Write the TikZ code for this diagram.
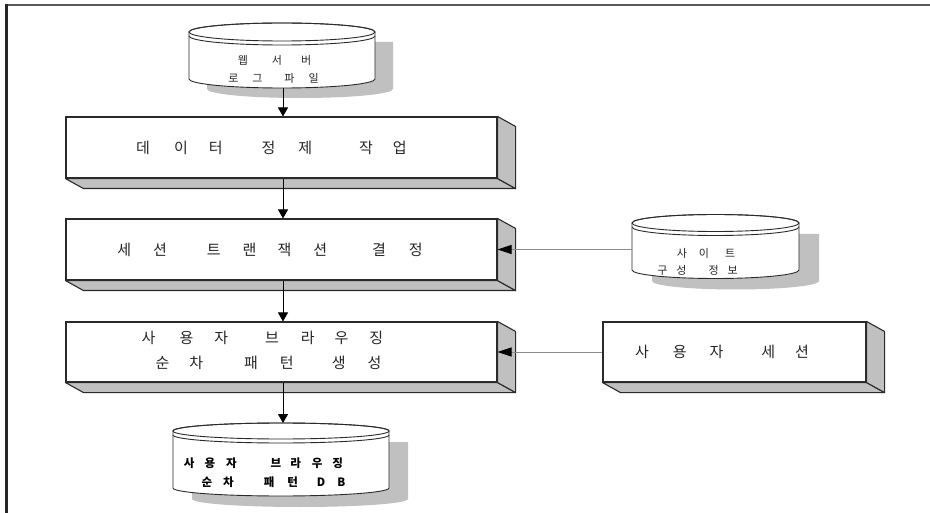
\documentclass[tikz,border=0pt]{standalone}
\usepackage{fontspec}
\newfontfamily\kr{Noto Sans CJK KR}
\usetikzlibrary{arrows.meta,calc}
\newcommand\gapk[1]{\hspace*{#1pt}}
\definecolor{sidegray}{HTML}{C0C0C0}
\definecolor{edge}{HTML}{2A2A2A}
\newcommand\threed[1]{%
  \filldraw[face] (#1.south west) -- ++(18,10) -- ($(#1.south east)+(18,10)$) -- (#1.south east) -- cycle;
  \filldraw[face] (#1.north east) -- ++(18,10) -- ($(#1.south east)+(18,10)$) -- (#1.south east) -- cycle;
}
\begin{document}
\begin{tikzpicture}[x=1pt,y=-1pt,
  face/.style={fill=sidegray,draw=edge,line width=1.1pt,line join=round},
  frontbox/.style={draw=edge,fill=white,line width=1.1pt,inner sep=0pt},
  cyl/.style={draw=edge,fill=white,line width=0.9pt},
  shadowc/.style={fill=sidegray,draw=none},
  arr/.style={draw=black,line width=0.9pt,-{Triangle[width=10pt,length=9pt]}},
  harr/.style={draw=gray!90,line width=0.8pt,-{Triangle[width=9pt,length=14pt,color=black]}},
  btxt/.style={font=\kr\fontsize{15}{18}\selectfont,inner sep=0pt,text=black!85},
  ctxt/.style={font=\kr\fontsize{11}{13}\selectfont,inner sep=0pt,text=black!85},
  dtxt/.style={font=\kr\bfseries\fontsize{11.5}{13}\selectfont,inner sep=0pt,text=black}]
\useasboundingbox (0,0) rectangle (930,513);
\fill[white] (0,0) rectangle (930,513);
% frame
\draw[gray!70!black,line width=2pt] (6,5) -- (930,5);
\draw[black!85,line width=2.4pt] (6.5,4) -- (6.5,513);

% ---------- cylinders ----------
% web server log
\fill[shadowc] (207,42) -- (207,89) arc[start angle=180,end angle=360,x radius=93pt,y radius=9pt] -- (393,42) -- cycle;
\filldraw[cyl] (189,32) -- (189,79) arc[start angle=180,end angle=360,x radius=93pt,y radius=9pt] -- (375,32) arc[start angle=0,end angle=180,x radius=93pt,y radius=9pt] -- cycle;
\draw[cyl,fill=none] (282,32) ellipse[x radius=93pt,y radius=9pt];
\draw[cyl,fill=none] (189,36) arc[start angle=180,end angle=360,x radius=93pt,y radius=9pt];
\coordinate (web) at (283,88);
\node[ctxt] (web1) at (274.5,60) {웹\gapk{24}서\gapk{19}버};
\node[ctxt] (web2) at (273.5,78) {로\gapk{14}그\gapk{22}파\gapk{14}일};

% site config
\fill[shadowc] (652,234) -- (652,281) arc[start angle=180,end angle=360,x radius=83.5pt,y radius=8.5pt] -- (819,234) -- cycle;
\filldraw[cyl] (632,223) -- (632,270) arc[start angle=180,end angle=360,x radius=83.5pt,y radius=8.5pt] -- (799,223) arc[start angle=0,end angle=180,x radius=83.5pt,y radius=8.5pt] -- cycle;
\draw[cyl,fill=none] (715.5,223) ellipse[x radius=83.5pt,y radius=8.5pt];
\draw[cyl,fill=none] (632,227) arc[start angle=180,end angle=360,x radius=83.5pt,y radius=8.5pt];
\coordinate (site) at (632,249.5);
\node[ctxt] (site1) at (706,253) {사\gapk{12}이\gapk{16}트};
\node[ctxt] (site2) at (697.5,270) {구\gapk{9}성\gapk{22}정\gapk{9}보};

% pattern DB
\fill[shadowc] (192,442) -- (192,499) arc[start angle=180,end angle=360,x radius=108pt,y radius=8pt] -- (408,442) -- cycle;
\filldraw[cyl] (173,431) -- (173,488) arc[start angle=180,end angle=360,x radius=108pt,y radius=8pt] -- (389,431) arc[start angle=0,end angle=180,x radius=108pt,y radius=8pt] -- cycle;
\draw[cyl,fill=none] (281,431) ellipse[x radius=108pt,y radius=8pt];
\draw[cyl,fill=none] (173,435) arc[start angle=180,end angle=360,x radius=108pt,y radius=8pt];
\coordinate (db) at (283,423);
\node[dtxt] (db1) at (263.5,463) {사\gapk{10}용\gapk{11}자\gapk{34}브\gapk{9}라\gapk{11}우\gapk{10}징};
\node[dtxt] (db2) at (273.5,482) {순\gapk{11}차\gapk{30}패\gapk{13}턴\gapk{19}D\gapk{12}B};

% ---------- 3D boxes ----------
\node[frontbox,minimum width=431pt,minimum height=61pt] (box1) at (281.5,147.5) {};
\threed{box1}
\node[frontbox,minimum width=431pt,minimum height=61pt] (box2) at (281.5,249.5) {};
\threed{box2}
\node[frontbox,minimum width=431pt,minimum height=60pt] (box3) at (281.5,352) {};
\threed{box3}
\node[frontbox,minimum width=263pt,minimum height=60pt] (sess) at (734.5,352) {};
\threed{sess}

\node[btxt] (t1) at (271.5,148) {데\gapk{24}이\gapk{21}터\gapk{39}정\gapk{23}제\gapk{47}작\gapk{20}업};
\node[btxt] (t2) at (270,249.5) {세\gapk{22}션\gapk{40}트\gapk{22}랜\gapk{21}잭\gapk{22}션\gapk{45}결\gapk{23}정};
\node[btxt] (t3a) at (262.5,338) {사\gapk{24}용\gapk{21}자\gapk{37}브\gapk{22}라\gapk{20}우\gapk{21}징};
\node[btxt] (t3b) at (268.5,363) {순\gapk{20}차\gapk{41}패\gapk{22}턴\gapk{38}생\gapk{22}성};
\node[btxt] (t4) at (722,352) {사\gapk{24}용\gapk{23}자\gapk{38}세\gapk{20}션};

% ---------- connectors ----------
\draw[arr] (web) -- (web |- box1.north);
\draw[arr] (box1.south -| web) -- (box2.north -| web);
\draw[arr] (box2.south -| web) -- (box3.north -| web);
\draw[arr] (box3.south -| web) -- (db);
\draw[harr] (site) -- (box2.east);
\draw[harr] (sess.west) -- (box3.east);
\end{tikzpicture}
\end{document}
